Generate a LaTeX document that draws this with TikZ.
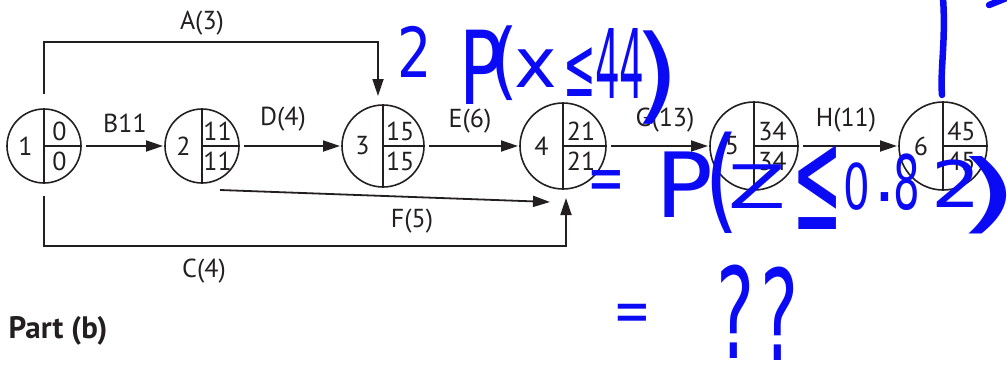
\documentclass[tikz,border=0pt]{standalone}
\usepackage{fontspec}
\setmainfont{PT Sans}
\newfontfamily\inkfamily{DejaVu Sans}
\usepackage{tikz}
\usetikzlibrary{arrows.meta, positioning, calc}
\definecolor{netgray}{RGB}{35,31,32}
\definecolor{inkblue}{RGB}{10,10,245}

% event circle: name, position, size, number, earliest, latest
\newcommand{\eventnode}[6]{%
  \node[event, minimum size=#3] (#1) at (#2) {};
  \draw[divide] (#1.north) -- (#1.south);
  \draw[divide] (#1.center) -- (#1.east);
  \node[num] (#1id) at ($(#1.center)!0.5!(#1.west)$) {#4};
  \node[num, yshift=15pt] (#1es) at ($(#1.center)!0.42!(#1.east)$) {#5};
  \node[num, yshift=-15pt] (#1lf) at ($(#1.center)!0.42!(#1.east)$) {#6};
}

\begin{document}
\begin{tikzpicture}[x=1pt, y=-1pt,
    every node/.style={font=\fontsize{26}{31}\selectfont, text=netgray},
    event/.style={circle, draw=netgray, line width=1.6pt, inner sep=0pt, outer sep=0pt},
    divide/.style={netgray, line width=1.4pt},
    num/.style={inner sep=0pt},
    flow/.style={-{Triangle[length=17pt,width=11pt]}, netgray, line width=1.8pt},
    hop/.style={flow, shorten <=5pt, shorten >=2pt},
    ink/.style={text=inkblue, font=\inkfamily\fontsize{60}{60}\selectfont, inner sep=0pt},
    inkline/.style={inkblue, line width=6.5pt, line cap=round}]
    \useasboundingbox (0,0) rectangle (1007,370);

    % Events
    \eventnode{n1}{44,146}{74pt}{1}{0}{0}
    \eventnode{n2}{202,146}{74pt}{2}{11}{11}
    \eventnode{n3}{383,146}{82pt}{3}{15}{15}
    \eventnode{n4}{563,146}{86pt}{4}{21}{21}
    \eventnode{n5}{754,146}{88pt}{5}{34}{34}
    \eventnode{n6}{943,146}{88pt}{6}{45}{45}

    % Activities
    \draw[hop] (n1) -- (n2);
    \draw[hop] (n2) -- (n3);
    \draw[hop] (n3) -- (n4);
    \draw[hop] (n4) -- (n5);
    \draw[hop] (n5) -- (n6);
    \coordinate (atop) at (0,42);
    \coordinate (cbot) at (0,246);
    \draw[flow] ([yshift=15pt]n1.north) -- (n1.north |- atop) -| ([xshift=-5pt,yshift=9pt]n3.north);
    \draw[flow] ([yshift=-13pt]n1.south) -- (n1.south |- cbot) -| ([xshift=3pt,yshift=-9pt]n4.south);
    \draw[flow] ([xshift=18pt,yshift=-7pt]n2.south) -- ([xshift=-13pt,yshift=-13pt]n4.south);

    % Activity labels
    \node (lA) at (202,23) {A(3)};
    \node (lB) at (125,123) {B11};
    \node (lC) at (204,271) {C(4)};
    \node (lD) at (283,119) {D(4)};
    \node (lE) at (470,121) {E(6)};
    \node (lF) at (412,221) {F(5)};
    \node (lG) at (665,120) {G(13)};
    \node (lH) at (846,120) {H(11)};

    \node[anchor=west, font=\bfseries\fontsize{31}{36}\selectfont] (partb) at (5,331) {Part (b)};

    % Handwritten working
    \node[ink] (w1) at (415,52) {\scalebox{0.9}[1.15]{2}};
    \node[ink] (w2) at (481,67) {\scalebox{1.2}[1.7]{P}};
    \node[ink] (w3) at (505,63) {\scalebox{1.2}[1.4]{(}};
    \node[ink] (w4) at (536,69) {\scalebox{1.2}[1.15]{x}};
    \node[ink] (w5) at (580,72) {\scalebox{0.65}[1.4]{≤}};
    \node[ink] (w6) at (620,64) {\scalebox{0.65}[1.6]{44}};
    \node[ink] (w7) at (657,78) {\scalebox{2}[1.75]{)}};

    \node[ink] (v1) at (606,186) {\scalebox{0.75}[1.1]{=}};
    \node[ink] (v2) at (684,185) {\scalebox{1.6}[1.5]{P}};
    \node[ink] (v3) at (722,183) {\scalebox{1.5}[1.9]{(}};
    \node[ink] (v4) at (757,187) {\scalebox{1.4}[1.0]{Z}};
    \node[ink] (v5) at (818,188) {\scalebox{1.0}[2.4]{≤}};
    \node[ink] (v6) at (857,187) {\scalebox{0.7}[1.05]{0}};
    \node[ink] (v7) at (885,197) {\scalebox{1.2}[1.2]{.}};
    \node[ink] (v8) at (907,182) {\scalebox{0.7}[1.25]{8}};
    \node[ink] (v9) at (956,184) {\scalebox{1.3}[1.07]{2}};
    \node[ink] (v10) at (988,195) {\scalebox{2.8}[1.45]{)}};

    \node[ink] (u1) at (632,318) {\scalebox{0.75}[1.0]{=}};
    \node[ink] (u2) at (736,312) {\scalebox{1.2}[2.1]{?}};
    \node[ink] (u3) at (780,314) {\scalebox{1.2}[2.1]{?}};

    \draw[inkline] (943,-2) .. controls (946,40) and (940,70) .. (942,95);
    \draw[inkline] (989,5) -- (1009,-3);
\end{tikzpicture}
\end{document}
